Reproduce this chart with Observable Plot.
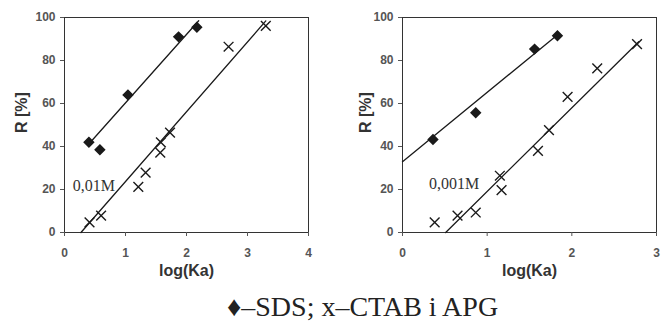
<!DOCTYPE html>
<html><head><meta charset="utf-8">
<script src="https://cdn.jsdelivr.net/npm/d3@7"></script>
<script src="https://cdn.jsdelivr.net/npm/@observablehq/plot@0.6"></script>
<style>
body{margin:0;background:#fff;width:661px;height:322px;overflow:hidden;position:relative;}
#row{display:flex;}
#cap{position:absolute;left:227px;top:292px;white-space:nowrap;font-family:"Liberation Serif","Times New Roman",serif;font-size:28px;line-height:30px;color:#222;}
svg{overflow:visible}
</style></head><body>
<div id="row"></div>
<div id="cap">♦–SDS; x–CTAB i APG</div>
<script>
// Panel A (0,01M)
const sdsA_x = [0.40, 0.58, 1.04, 1.87, 2.17];
const sdsA_y = [42, 38.5, 64, 91, 95.5];
const ctabA_x = [0.41, 0.60, 1.21, 1.33, 1.57, 1.58, 1.73, 2.69, 3.30];
const ctabA_y = [4.7, 7.8, 21.2, 27.9, 37.2, 41.9, 46.5, 86.4, 96.1];
const sdsA_line_x = [0.41, 2.2];
const sdsA_line_y = [41.5, 98.5];
const ctabA_line_x = [0.27, 3.30];
const ctabA_line_y = [0, 98.4];
// Panel B (0,001M)
const sdsB_x = [0.36, 0.865, 1.56, 1.83];
const sdsB_y = [43.3, 55.7, 85.3, 91.5];
const ctabB_x = [0.38, 0.65, 0.865, 1.15, 1.17, 1.60, 1.73, 1.95, 2.30, 2.77];
const ctabB_y = [4.7, 7.8, 9.3, 26.4, 19.7, 38, 47.6, 63.1, 76.3, 87.6];
const sdsB_line_x = [0, 1.85];
const sdsB_line_y = [32.9, 92.6];
const ctabB_line_x = [0.51, 2.79];
const ctabB_line_y = [0, 88.7];

const yTicks = [0, 20, 40, 60, 80, 100];
const xTicksA = [0, 1, 2, 3, 4];
const xTicksB = [0, 1, 2, 3];
const labels = ["0,01M", "0,001M"];

const zip = (xs, ys) => xs.map((x, i) => ({x, y: ys[i]}));
const ink = "#1a1a1a";

function panel(o) {
  return Plot.plot({
    width: o.width, height: 290,
    marginLeft: o.ml, marginRight: o.mr, marginTop: 17, marginBottom: 58,
    style: {fontFamily: "Liberation Sans, Arial, sans-serif", fontSize: "12px", color: "#333", background: "white"},
    x: {domain: o.xdom},
    y: {domain: [0, 100]},
    marks: [
      Plot.frame({stroke: "#333", strokeWidth: 1}),
      Plot.axisX({ticks: o.xticks, tickFormat: "d", tickSize: 4, tickPadding: 12, fontSize: 12, fontWeight: "bold", label: null, fill: "#555", stroke: "#555"}),
      Plot.axisY({ticks: yTicks, tickFormat: "d", tickSize: 4, tickPadding: 5, fontSize: 12, fontWeight: "bold", label: null, fill: "#555", stroke: "#555"}),
      Plot.text(["log(Ka)"], {frameAnchor: "bottom", dy: 43, fontSize: 16, fontWeight: "bold", fill: "#333"}),
      Plot.text(["R [%]"], {frameAnchor: "left", dx: -o.yoff, dy: 8, rotate: -90, fontSize: 16, fontWeight: "bold", fill: "#333"}),
      Plot.line(zip(o.l1x, o.l1y), {x: "x", y: "y", stroke: ink, strokeWidth: 1.3}),
      Plot.line(zip(o.l2x, o.l2y), {x: "x", y: "y", stroke: ink, strokeWidth: 1.3}),
      Plot.dot(zip(o.sx, o.sy), {x: "x", y: "y", symbol: "diamond2", fill: ink, stroke: ink, r: 4.2}),
      Plot.dot(zip(o.cx, o.cy), {x: "x", y: "y", symbol: "times", stroke: ink, strokeWidth: 1.4, r: 4.5}),
      Plot.text([{x: o.lx, y: o.ly, t: o.lab}], {x: "x", y: "y", text: "t", fontFamily: "Liberation Serif, Times New Roman, serif", fontSize: 16, fill: "#333"})
    ]
  });
}

const row = document.getElementById("row");
row.appendChild(panel({width: 330, ml: 64, mr: 22, xdom: [0, 4], xticks: xTicksA, yoff: 43,
  sx: sdsA_x, sy: sdsA_y, cx: ctabA_x, cy: ctabA_y,
  l1x: sdsA_line_x, l1y: sdsA_line_y, l2x: ctabA_line_x, l2y: ctabA_line_y,
  lx: 0.48, ly: 21.9, lab: labels[0]}));
row.appendChild(panel({width: 331, ml: 72, mr: 5, xdom: [0, 3], xticks: xTicksB, yoff: 37,
  sx: sdsB_x, sy: sdsB_y, cx: ctabB_x, cy: ctabB_y,
  l1x: sdsB_line_x, l1y: sdsB_line_y, l2x: ctabB_line_x, l2y: ctabB_line_y,
  lx: 0.61, ly: 22.8, lab: labels[1]}));
</script>
</body></html>
